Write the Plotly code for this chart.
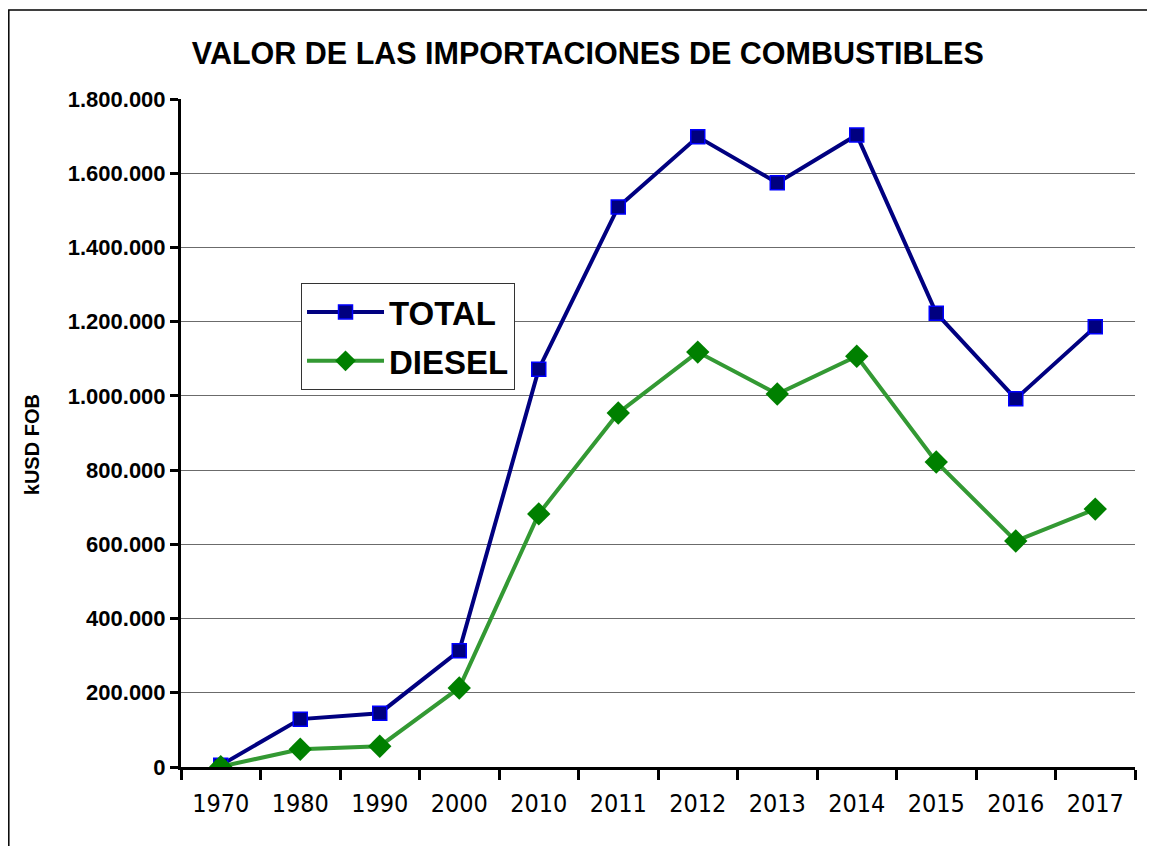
import plotly.graph_objects as go

years = ["1970", "1980", "1990", "2000", "2010", "2011", "2012", "2013", "2014", "2015", "2016", "2017"]
total = [5000, 129000, 145000, 313000, 1072000, 1509000, 1698000, 1574000, 1703000, 1223000, 992000, 1186000]
diesel = [1000, 48000, 56000, 213000, 682000, 954000, 1118000, 1005000, 1107000, 822000, 609000, 695000]
y_ticks = [0, 200000, 400000, 600000, 800000, 1000000, 1200000, 1400000, 1600000, 1800000]

fig = go.Figure()
fig.add_trace(go.Scatter(
    x=years, y=total, name="<b>TOTAL</b>", mode="lines+markers", legendgroup="a",
    line=dict(color="#000080", width=4),
    marker=dict(symbol="square", size=14, color="#000080", line=dict(color="#0000FF", width=1.5)),
))
fig.add_trace(go.Scatter(
    x=years, y=diesel, name="<b>DIESEL</b>", mode="lines+markers", legendgroup="b",
    line=dict(color="#339933", width=4),
    marker=dict(symbol="diamond", size=18, color="#008000", line=dict(width=0)),
))

fig.update_layout(
    width=1155, height=846,
    margin=dict(l=173, r=28, t=91, b=87),
    paper_bgcolor="white", plot_bgcolor="white",
    separators=",.",
    showlegend=True,
    title=dict(text="<b>VALOR DE LAS IMPORTACIONES DE COMBUSTIBLES</b>",
               x=0.502, xanchor="center", y=0.9468, yanchor="middle",
               font=dict(family="Liberation Sans, Arial", size=30.5, color="black")),
    legend=dict(x=0.1258, y=0.7246, xanchor="left", yanchor="top",
                bordercolor="#333333", borderwidth=1, bgcolor="white",
                font=dict(family="Liberation Sans, Arial", size=33, color="black"),
                itemsizing="trace", itemwidth=77, traceorder="grouped", tracegroupgap=3),
    font=dict(family="Liberation Sans, Arial", color="black"),
)

fig.update_xaxes(
    type="category", range=[-0.5, 11.5], showline=True, linecolor="black", linewidth=3,
    ticks="outside", tickson="boundaries", ticklen=10, tickwidth=3, tickcolor="black",
    tickfont=dict(family="DejaVu Sans Condensed, Liberation Sans Narrow, Liberation Sans", size=25, color="black"),
    ticklabelstandoff=12,
    showgrid=False, zeroline=False,
)
fig.update_yaxes(
    range=[0, 1800000], tickmode="array", tickvals=y_ticks,
    ticktext=["<b>" + f"{v:,}".replace(",", ".") + "</b>" for v in y_ticks],
    showline=True, linecolor="black", linewidth=3,
    ticks="outside", ticklen=8, tickwidth=3, tickcolor="black",
    tickfont=dict(family="Liberation Sans, Arial", size=22, color="black"),
    showgrid=True, gridcolor="#6b6b6b", gridwidth=1, zeroline=False,
)

fig.add_annotation(text="<b>kUSD FOB</b>", xref="paper", yref="paper",
                   x=-0.156, y=0.482, xanchor="center", yanchor="middle",
                   textangle=-90, showarrow=False,
                   font=dict(family="Liberation Sans, Arial", size=20, color="black"))

fig.add_shape(type="rect", xref="paper", yref="paper",
              x0=-0.1805, x1=1.04, y0=-0.14, y1=1.1332,
              line=dict(color="black", width=1.5), fillcolor="rgba(0,0,0,0)", layer="below")

fig.write_html("out.html")
